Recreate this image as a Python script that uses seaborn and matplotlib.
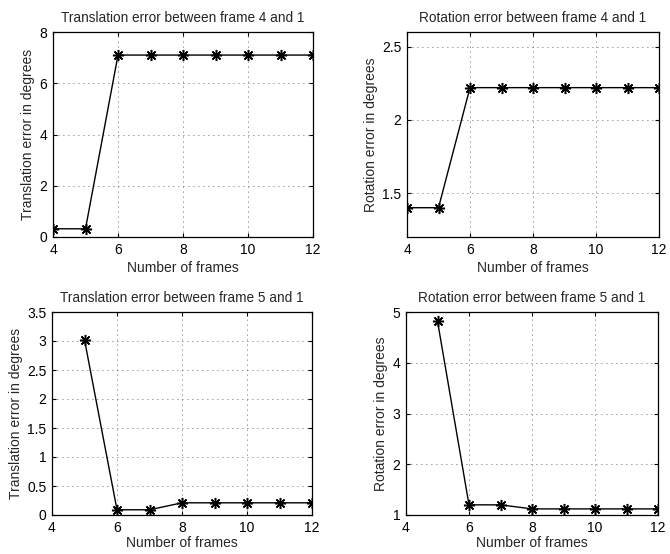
import matplotlib
matplotlib.use("Agg")
import matplotlib.pyplot as plt
import seaborn as sns
import pandas as pd

# Frame counts and error values per panel
frames_41 = [4, 5, 6, 7, 8, 9, 10, 11, 12]
trans_41 = [0.32, 0.32, 7.1, 7.1, 7.1, 7.1, 7.1, 7.1, 7.1]
rot_41 = [1.40, 1.40, 2.22, 2.22, 2.22, 2.22, 2.22, 2.22, 2.22]

frames_51 = [5, 6, 7, 8, 9, 10, 11, 12]
trans_51 = [3.02, 0.09, 0.09, 0.21, 0.21, 0.21, 0.21, 0.21]
rot_51 = [4.82, 1.20, 1.20, 1.12, 1.12, 1.12, 1.12, 1.12]

titles = [
    "Translation error between frame 4 and 1",
    "Rotation error between frame 4 and 1",
    "Translation error between frame 5 and 1",
    "Rotation error between frame 5 and 1",
]
ylabels = [
    "Translation error in degrees",
    "Rotation error in degrees",
    "Translation error in degrees",
    "Rotation error in degrees",
]
xticks = [4, 6, 8, 10, 12]
yticks = [
    [0, 2, 4, 6, 8],
    [1.5, 2, 2.5],
    [0, 0.5, 1, 1.5, 2, 2.5, 3, 3.5],
    [1, 2, 3, 4, 5],
]
ylims = [(0, 8), (1.2, 2.6), (0, 3.5), (1, 5)]

sns.set_style("white")
plt.rcParams["font.family"] = ["Liberation Sans", "DejaVu Sans"]

W, H = 670, 554
fig = plt.figure(figsize=(W / 100, H / 100), dpi=100)

# axes boxes in pixel coordinates: left, top, right, bottom
boxes = [
    (53, 32, 313, 237),
    (407, 32, 659, 237),
    (52, 312, 312, 515),
    (406, 312, 658, 515),
]
label_pads = [3, 3, 1, 1]
data = [
    (frames_41, trans_41),
    (frames_41, rot_41),
    (frames_51, trans_51),
    (frames_51, rot_51),
]

for i, ((l, t, r, b), (xs, ys)) in enumerate(zip(boxes, data)):
    ax = fig.add_axes([l / W, 1 - b / H, (r - l) / W, (b - t) / H])
    df = pd.DataFrame({"frames": xs, "err": ys})
    sns.lineplot(data=df, x="frames", y="err", ax=ax, color="black",
                 linewidth=1.0, marker=(8, 2, 0), markersize=8,
                 markeredgewidth=1.1,
                 markerfacecolor="black", markeredgecolor="black")
    ax.set_xlim(4, 12)
    ax.set_ylim(*ylims[i])
    ax.set_xticks(xticks)
    ax.set_yticks(yticks[i])
    ax.set_yticklabels([f"{v:g}" for v in yticks[i]])
    ax.grid(True, color="#333333", linestyle=(0, (1, 5)), linewidth=0.6)
    ax.tick_params(direction="in", length=3, labelsize=10, colors="black",
                   top=True, right=True, bottom=True, left=True, pad=4)
    for s in ax.spines.values():
        s.set_color("black")
        s.set_linewidth(0.9)
    ax.set_title(titles[i], fontsize=9.8, pad=7)
    ax.set_xlabel("Number of frames", fontsize=10, labelpad=label_pads[i])
    ax.set_ylabel(ylabels[i], fontsize=10, labelpad=3)

fig.savefig("out.png", dpi=100)
